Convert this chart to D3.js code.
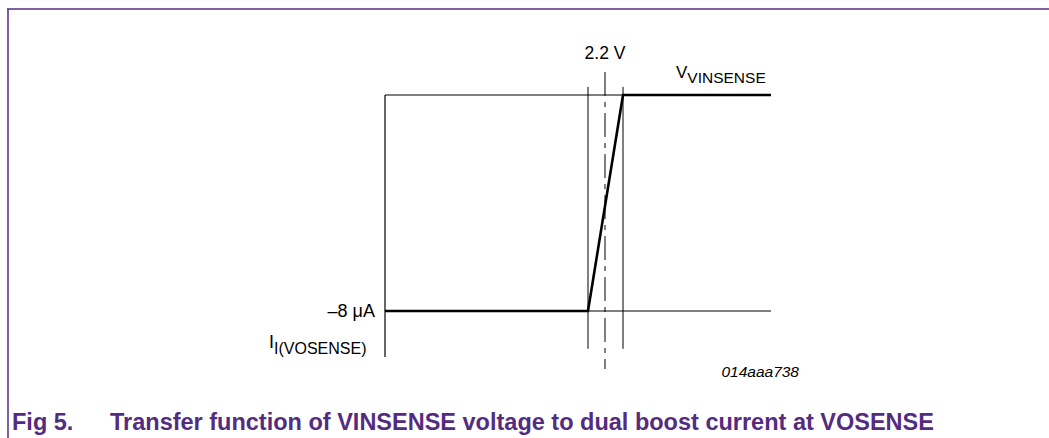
<!DOCTYPE html>
<html>
<head>
<meta charset="utf-8">
<script src="https://d3js.org/d3.v7.min.js"></script>
<style>
body { margin: 0; background: white; font-family: "Liberation Sans", Arial, sans-serif; }
</style>
</head>
<body>
<script>
// transfer curve: VINSENSE (V) -> I(VOSENSE) (uA)
var vinsense = [0, 2.03, 2.38, 3.86];
var iVosense = [-8, -8, 0, 0];
var vRef = 2.2;          // centre of transition
var vEdges = [2.03, 2.38]; // transition edges
var iLow = -8, iHigh = 0;

var width = 1049, height = 438;
var purple = "#532c80";

var svg = d3.select("body").append("svg")
  .attr("width", width)
  .attr("height", height);

// frame
svg.append("line").attr("x1", 7).attr("x2", width).attr("y1", 9).attr("y2", 9)
  .attr("stroke", purple).attr("stroke-width", 1.5);
svg.append("line").attr("x1", 8).attr("x2", 8).attr("y1", 9).attr("y2", height)
  .attr("stroke", purple).attr("stroke-width", 1.5);

var x = d3.scaleLinear().domain([0, 3.86]).range([385, 771]);
var y = d3.scaleLinear().domain([iLow, iHigh]).range([311, 95]);

var g = svg.append("g");

// y axis
g.append("line")
  .attr("x1", x(0)).attr("x2", x(0))
  .attr("y1", y(iHigh)).attr("y2", y(-9.7))
  .attr("stroke", "#000").attr("stroke-width", 1.2);

// thin horizontal guides
g.append("line")
  .attr("x1", x(0)).attr("x2", x(vEdges[1]))
  .attr("y1", y(iHigh)).attr("y2", y(iHigh))
  .attr("stroke", "#000").attr("stroke-width", 1);
g.append("line")
  .attr("x1", x(vEdges[0])).attr("x2", x(3.86))
  .attr("y1", y(iLow)).attr("y2", y(iLow))
  .attr("stroke", "#000").attr("stroke-width", 1);

// thin vertical guides at transition edges
g.selectAll(".edge")
  .data(vEdges)
  .enter().append("line")
  .attr("class", "edge")
  .attr("x1", function(d) { return x(d); })
  .attr("x2", function(d) { return x(d); })
  .attr("y1", y(0.3))
  .attr("y2", y(-9.4))
  .attr("stroke", "#000").attr("stroke-width", 1);

// dash-dot centre line
g.append("line")
  .attr("x1", x(vRef)).attr("x2", x(vRef))
  .attr("y1", y(0.85)).attr("y2", y(-10.15))
  .attr("stroke", "#000").attr("stroke-width", 1)
  .attr("stroke-dasharray", "24,6,5,6");

// transfer curve
var line = d3.line()
  .x(function(d, i) { return x(vinsense[i]); })
  .y(function(d) { return y(d); });

g.append("path")
  .datum(iVosense)
  .attr("d", line)
  .attr("fill", "none")
  .attr("stroke", "#000")
  .attr("stroke-width", 2.6);

// labels
g.append("text")
  .attr("x", x(vRef)).attr("y", 59)
  .attr("text-anchor", "middle")
  .attr("font-size", "17.5px")
  .text("2.2 V");

var vl = g.append("text").attr("x", 676).attr("y", 78).attr("font-size", "17px");
vl.append("tspan").text("V");
vl.append("tspan").attr("dy", 5).attr("font-size", "15.5px").text("VINSENSE");

g.append("text")
  .attr("x", 375).attr("y", 317)
  .attr("text-anchor", "end")
  .attr("font-size", "18px")
  .text("\u20138 \u03bcA");

var il = g.append("text").attr("x", 269).attr("y", 348).attr("font-size", "18px");
il.append("tspan").text("I");
il.append("tspan").attr("dy", 6).attr("font-size", "16px").text("I(VOSENSE)");

g.append("text")
  .attr("x", 799).attr("y", 377)
  .attr("text-anchor", "end")
  .attr("font-size", "15.5px")
  .attr("font-style", "italic")
  .text("014aaa738");

// caption
svg.append("text")
  .attr("x", 12).attr("y", 430)
  .attr("font-size", "23.5px").attr("font-weight", "bold")
  .attr("fill", purple)
  .text("Fig 5.");
svg.append("text")
  .attr("x", 110).attr("y", 430)
  .attr("font-size", "23.5px").attr("font-weight", "bold")
  .attr("fill", purple)
  .text("Transfer function of VINSENSE voltage to dual boost current at VOSENSE");
</script>
</body>
</html>
